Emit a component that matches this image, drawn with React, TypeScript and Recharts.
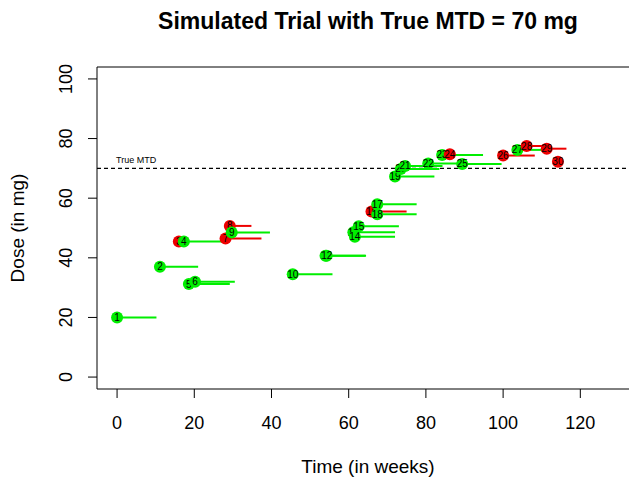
import { ComposedChart, Scatter, XAxis, YAxis, ReferenceLine, ReferenceArea } from "recharts";

// patient-level data
const patientIds = [
  1, 2, 3, 4, 5, 6, 7, 8, 9, 10, 11, 12, 13, 14, 15, 16, 17, 18, 19, 20, 21, 22, 23, 24, 25, 26, 27, 28, 29, 30,
];
const entryWeek = [
  0, 11.1, 16, 17.3, 18.6, 20.2, 28.1, 29.2, 29.7, 45.5, 54, 54.3, 61.2, 61.6, 62.6, 65.9, 67.4, 67.4, 72, 73.5,
  74.6, 80.6, 84.2, 86.2, 89.4, 100, 103.7, 106.1, 111.3, 114.2,
];
const endWeek = [
  10.2, 21, 16, 28, 29.2, 30.5, 37.4, 34.8, 39.6, 55.8, 64.3, 64.5, 72, 72, 73, 75, 77.6, 77.6, 82.2, 83.5, 84.3,
  90, 94.8, 86.2, 99.6, 108.2, 110.3, 111.5, 116.4, 114.2,
];
const doseMg = [
  20, 37, 45.5, 45.5, 31.2, 32, 46.5, 50.7, 48.5, 34.5, 40.7, 40.7, 48.6, 47.1, 50.6, 55.5, 58, 54.6, 67.3, 69.8,
  70.8, 71.6, 74.5, 74.7, 71.5, 74.3, 76.2, 77.5, 76.6, 72.2,
];
// 1 = dose-limiting toxicity observed
const toxicity = [
  0, 0, 1, 0, 0, 0, 1, 1, 0, 0, 0, 0, 0, 0, 0, 1, 0, 0, 0, 0, 0, 0, 0, 1, 0, 1, 0, 1, 1, 1,
];

const trueMtd = 70;
const xTicks = [0, 20, 40, 60, 80, 100, 120];
const yTicks = [0, 20, 40, 60, 80, 100];

const GREEN = "#00ee00";
const RED = "#ee0000";
const FONT = "'Liberation Sans', Arial, sans-serif";

const YTick = (props: any) => {
  const { x, y, payload } = props;
  return (
    <text
      x={x}
      y={y}
      transform={`rotate(-90, ${x}, ${y})`}
      textAnchor="middle"
      fontSize={18}
      fontFamily={FONT}
      fill="#000"
    >
      {payload.value}
    </text>
  );
};

const App = () => {
  return (
    <div style={{ position: "relative", width: 629, height: 472, overflow: "hidden" }}>
      <ComposedChart width={640} height={472} margin={{ top: 59, right: 9, bottom: 0, left: 0 }}>
        <XAxis
          type="number"
          dataKey="t"
          domain={[-5.2, 135.2]}
          ticks={xTicks}
          interval={0}
          allowDataOverflow
          axisLine={false}
          tickSize={9}
          tickMargin={18}
          tickLine={{ stroke: "#000" }}
          tick={{ fontSize: 18, fill: "#000", fontFamily: FONT }}
          height={91}
          label={{
            content: (p: any) => (
              <text
                x={p.viewBox.x + p.viewBox.width / 2}
                y={465}
                textAnchor="middle"
                fontSize={19}
                fontFamily={FONT}
                fill="#000"
              >
                Time (in weeks)
              </text>
            ),
          }}
        />
        <YAxis
          type="number"
          dataKey="d"
          domain={[-4, 104]}
          ticks={yTicks}
          interval={0}
          allowDataOverflow
          axisLine={false}
          tickSize={9}
          tickMargin={16}
          tickLine={{ stroke: "#000" }}
          tick={<YTick />}
          width={89}
          label={{
            content: (p: any) => {
              const cy = p.viewBox.y + p.viewBox.height / 2;
              return (
                <text
                  x={16}
                  y={cy}
                  transform={`rotate(-90, 16, ${cy})`}
                  textAnchor="middle"
                  fontSize={19}
                  fontFamily={FONT}
                  fill="#000"
                >
                  Dose (in mg)
                </text>
              );
            },
          }}
        />
        <ReferenceArea x1={-5.2} x2={135.2} y1={-4} y2={104} fill="none" stroke="#000" strokeWidth={1} ifOverflow="visible" />
        {patientIds.map((id, i) => {
          const color = toxicity[i] ? RED : GREEN;
          const pts = [
            { t: entryWeek[i], d: doseMg[i], id, start: true },
            { t: endWeek[i], d: doseMg[i], id, start: false },
          ];
          return (
            <Scatter
              key={id}
              data={pts}
              line={{ stroke: color, strokeWidth: 2 }}
              isAnimationActive={false}
              shape={(p: any) =>
                p.payload && p.payload.start ? (
                  <g>
                    <circle cx={p.cx} cy={p.cy} r={6} fill={color} />
                    <text
                      x={p.cx}
                      y={p.cy + 3.5}
                      textAnchor="middle"
                      fontSize={10}
                      fontFamily={FONT}
                      fill="#000"
                    >
                      {id}
                    </text>
                  </g>
                ) : (
                  <g />
                )
              }
            />
          );
        })}
        <ReferenceLine y={trueMtd} stroke="#000" strokeWidth={1.2} strokeDasharray="4 3" />
        <Scatter
          data={[{ t: 0, d: trueMtd }]}
          isAnimationActive={false}
          shape={(p: any) => (
            <text x={p.cx - 1} y={p.cy - 5} fontSize={9} fontFamily={FONT} fill="#000">
              True MTD
            </text>
          )}
        />
      </ComposedChart>
      <svg width={629} height={40} style={{ position: "absolute", left: 0, top: 0, pointerEvents: "none" }}>
        <text x={360} y={21} textAnchor="middle" fontSize={23} fontWeight="bold" fontFamily={FONT} fill="#000">
          Simulated Trial with True MTD = 70 mg
        </text>
      </svg>
    </div>
  );
};

export default App;
